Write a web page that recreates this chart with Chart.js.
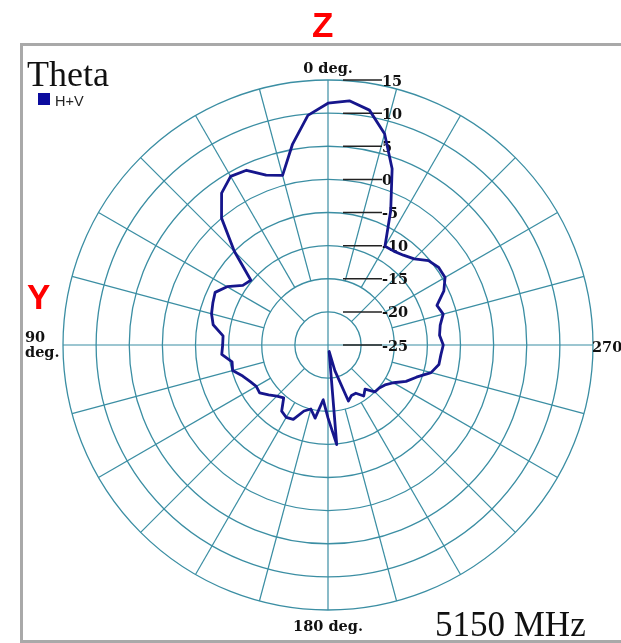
<!DOCTYPE html>
<html>
<head>
<meta charset="utf-8">
<title>Theta - 5150 MHz</title>
<script src="https://cdn.jsdelivr.net/npm/chart.js@4.4.1/dist/chart.umd.min.js"></script>
<style>
    html, body { margin: 0; padding: 0; background: #fff; }
    #wrap { position: relative; width: 621px; height: 643px; overflow: hidden; }
    #frame { position: absolute; left: 20px; top: 43px; width: 640px; height: 594px;
             border: 3px solid #a9a9a9; border-right: none; background: #fff; }
    #polar { position: absolute; left: 0; top: 0; }
    .txt { position: absolute; line-height: 1; white-space: nowrap; }
    .axisName { font: bold 35px "Liberation Sans", Arial, sans-serif; color: #f00; }
    #title { left: 27px; top: 53px; font: 36px "Liberation Serif", "Times New Roman", serif; color: #111; }
    #legendBox { position: absolute; left: 38px; top: 93px; width: 12px; height: 12px; background: #0b0b9e; }
    #legendText { left: 55px; top: 93px; font: 14.5px "Liberation Sans", Arial, sans-serif; color: #222; }
    #freq { left: 435px; top: 605px; font: 35px "Liberation Serif", "Times New Roman", serif; color: #111; }
</style>
</head>
<body>
<div id="wrap">
    <div id="frame"></div>
    <canvas id="polar" width="621" height="643"></canvas>
    <div class="txt axisName" style="left:312px; top:5px;">Z</div>
    <div class="txt axisName" style="left:27px; top:277px;">Y</div>
    <div class="txt" id="title">Theta</div>
    <div id="legendBox"></div>
    <div class="txt" id="legendText">H+V</div>
    <div class="txt" id="freq">5150 MHz</div>
</div>

<script>
// angle (deg, counter-clockwise from top) and measured gain (dB)
const thetaDeg = [0, 5, 10, 15, 20, 25, 30, 35, 40, 45, 50, 55,
                  60, 65, 70, 75, 80, 85, 90, 95, 100, 105, 110, 115,
                  120, 125, 130, 135, 140, 145, 150, 155, 160, 165, 170, 175,
                  180, 185, 190, 195, 200, 205, 210, 215, 220, 225, 230, 235,
                  240, 245, 250, 255, 260, 265, 270, 275, 280, 285, 290, 295,
                  300, 305, 310, 315, 320, 325, 330, 335, 340, 345, 350, 355];

const gainHV = [11.5, 9.8, 5.8, 1.5, 2.3, 4.1, 4.4, 3.0, 0.0, -5.0, -9.8, -9.3,
                -7.4, -6.2, -6.5, -6.8, -7.4, -9.1, -9.1, -8.9, -10.3, -10.1, -11.3, -12.0,
                -12.5, -12.4, -13.3, -14.1, -14.6, -12.8, -12.4, -12.6, -14.4, -15.0, -13.8, -16.7,
                -14.0, -9.9, -24.0, -21.0, -16.0, -16.6, -16.6, -15.6, -16.3, -15.0, -14.9, -14.5,
                -13.6, -12.0, -10.8, -8.9, -8.0, -7.9, -7.6, -8.1, -7.8, -7.0, -7.5, -5.7,
                -4.6, -4.6, -5.2, -6.6, -7.3, -7.7, -7.8, -2.6, 3.3, 8.0, 11.0, 12.0];

const radialTicks = [15, 10, 5, 0, -5, -10, -15, -20, -25];
const axisAngles = [0, 90, 180, 270];
const axisNames = ['0 deg.', '90 deg.', '180 deg.', '270'];

const gridColor = '#3b8ea3';
const traceColor = '#16168c';
const labelFont = 'bold 14.5px "DejaVu Serif", serif';

// radar runs clockwise, the plot runs counter-clockwise
function toClockwise(arr) {
    return [arr[0]].concat(arr.slice(1).reverse());
}

const polarDecor = {
    id: 'polarDecor',
    beforeDatasetsDraw(chart) {
        const s = chart.scales.r;
        const ctx = chart.ctx;
        const labels = chart.data.labels;
        const r = s.drawingArea;
        ctx.save();

        // spokes every 15 deg, short ones start further out
        ctx.strokeStyle = gridColor;
        ctx.lineWidth = 1.2;
        labels.forEach((deg, i) => {
            if (deg % 15 !== 0) return;
            const from = deg % 90 === 0 ? -25 : (deg % 45 === 0 ? -20 : -15);
            const a = s.getPointPosition(i, s.getDistanceFromCenterForValue(from));
            const b = s.getPointPosition(i, r);
            ctx.beginPath();
            ctx.moveTo(a.x, a.y);
            ctx.lineTo(b.x, b.y);
            ctx.stroke();
        });

        // dB marks along the 0 deg axis
        ctx.font = labelFont;
        ctx.fillStyle = '#111';
        ctx.strokeStyle = '#222';
        ctx.lineWidth = 1.5;
        ctx.textAlign = 'left';
        ctx.textBaseline = 'alphabetic';
        radialTicks.forEach(v => {
            const y = s.yCenter - s.getDistanceFromCenterForValue(v);
            ctx.beginPath();
            ctx.moveTo(s.xCenter + 15, y);
            ctx.lineTo(s.xCenter + 54, y);
            ctx.stroke();
            ctx.fillText(String(v), s.xCenter + 54, y + 5.5);
        });

        // angle names
        axisAngles.forEach((deg, k) => {
            const p = s.getPointPosition(labels.indexOf(deg), r);
            const name = axisNames[k];
            if (deg === 0) {
                ctx.textAlign = 'center';
                ctx.fillText(name, p.x, p.y - 7);
            } else if (deg === 180) {
                ctx.textAlign = 'center';
                ctx.fillText(name, p.x, p.y + 21);
            } else if (deg === 270) {
                ctx.textAlign = 'left';
                ctx.fillText(name, p.x - 1, p.y + 6.5);
            } else {
                const parts = name.split(' ');
                ctx.textAlign = 'left';
                ctx.fillText(parts[0], p.x - 38, p.y - 3.5);
                ctx.fillText(parts[1], p.x - 38, p.y + 12);
            }
        });
        ctx.restore();
    }
};

const ctx = document.getElementById('polar');

new Chart(ctx, {
    type: 'radar',
    data: {
        labels: toClockwise(thetaDeg),
        datasets: [{
            label: 'H+V',
            data: toClockwise(gainHV),
            borderColor: traceColor,
            borderWidth: 2.8,
            fill: false,
            pointRadius: 0,
            tension: 0
        }]
    },
    options: {
        responsive: false,
        animation: false,
        layout: {
            padding: { left: 63, right: 28, top: 80, bottom: 33 }
        },
        elements: {
            line: { borderJoinStyle: 'round' }
        },
        plugins: {
            legend: { display: false },
            tooltip: { enabled: false }
        },
        scales: {
            r: {
                min: -25,
                max: 15,
                ticks: { stepSize: 5, display: false },
                grid: { circular: true, color: gridColor, lineWidth: 1.3 },
                angleLines: { display: false },
                pointLabels: { display: false }
            }
        }
    },
    plugins: [polarDecor]
});
</script>
</body>
</html>
